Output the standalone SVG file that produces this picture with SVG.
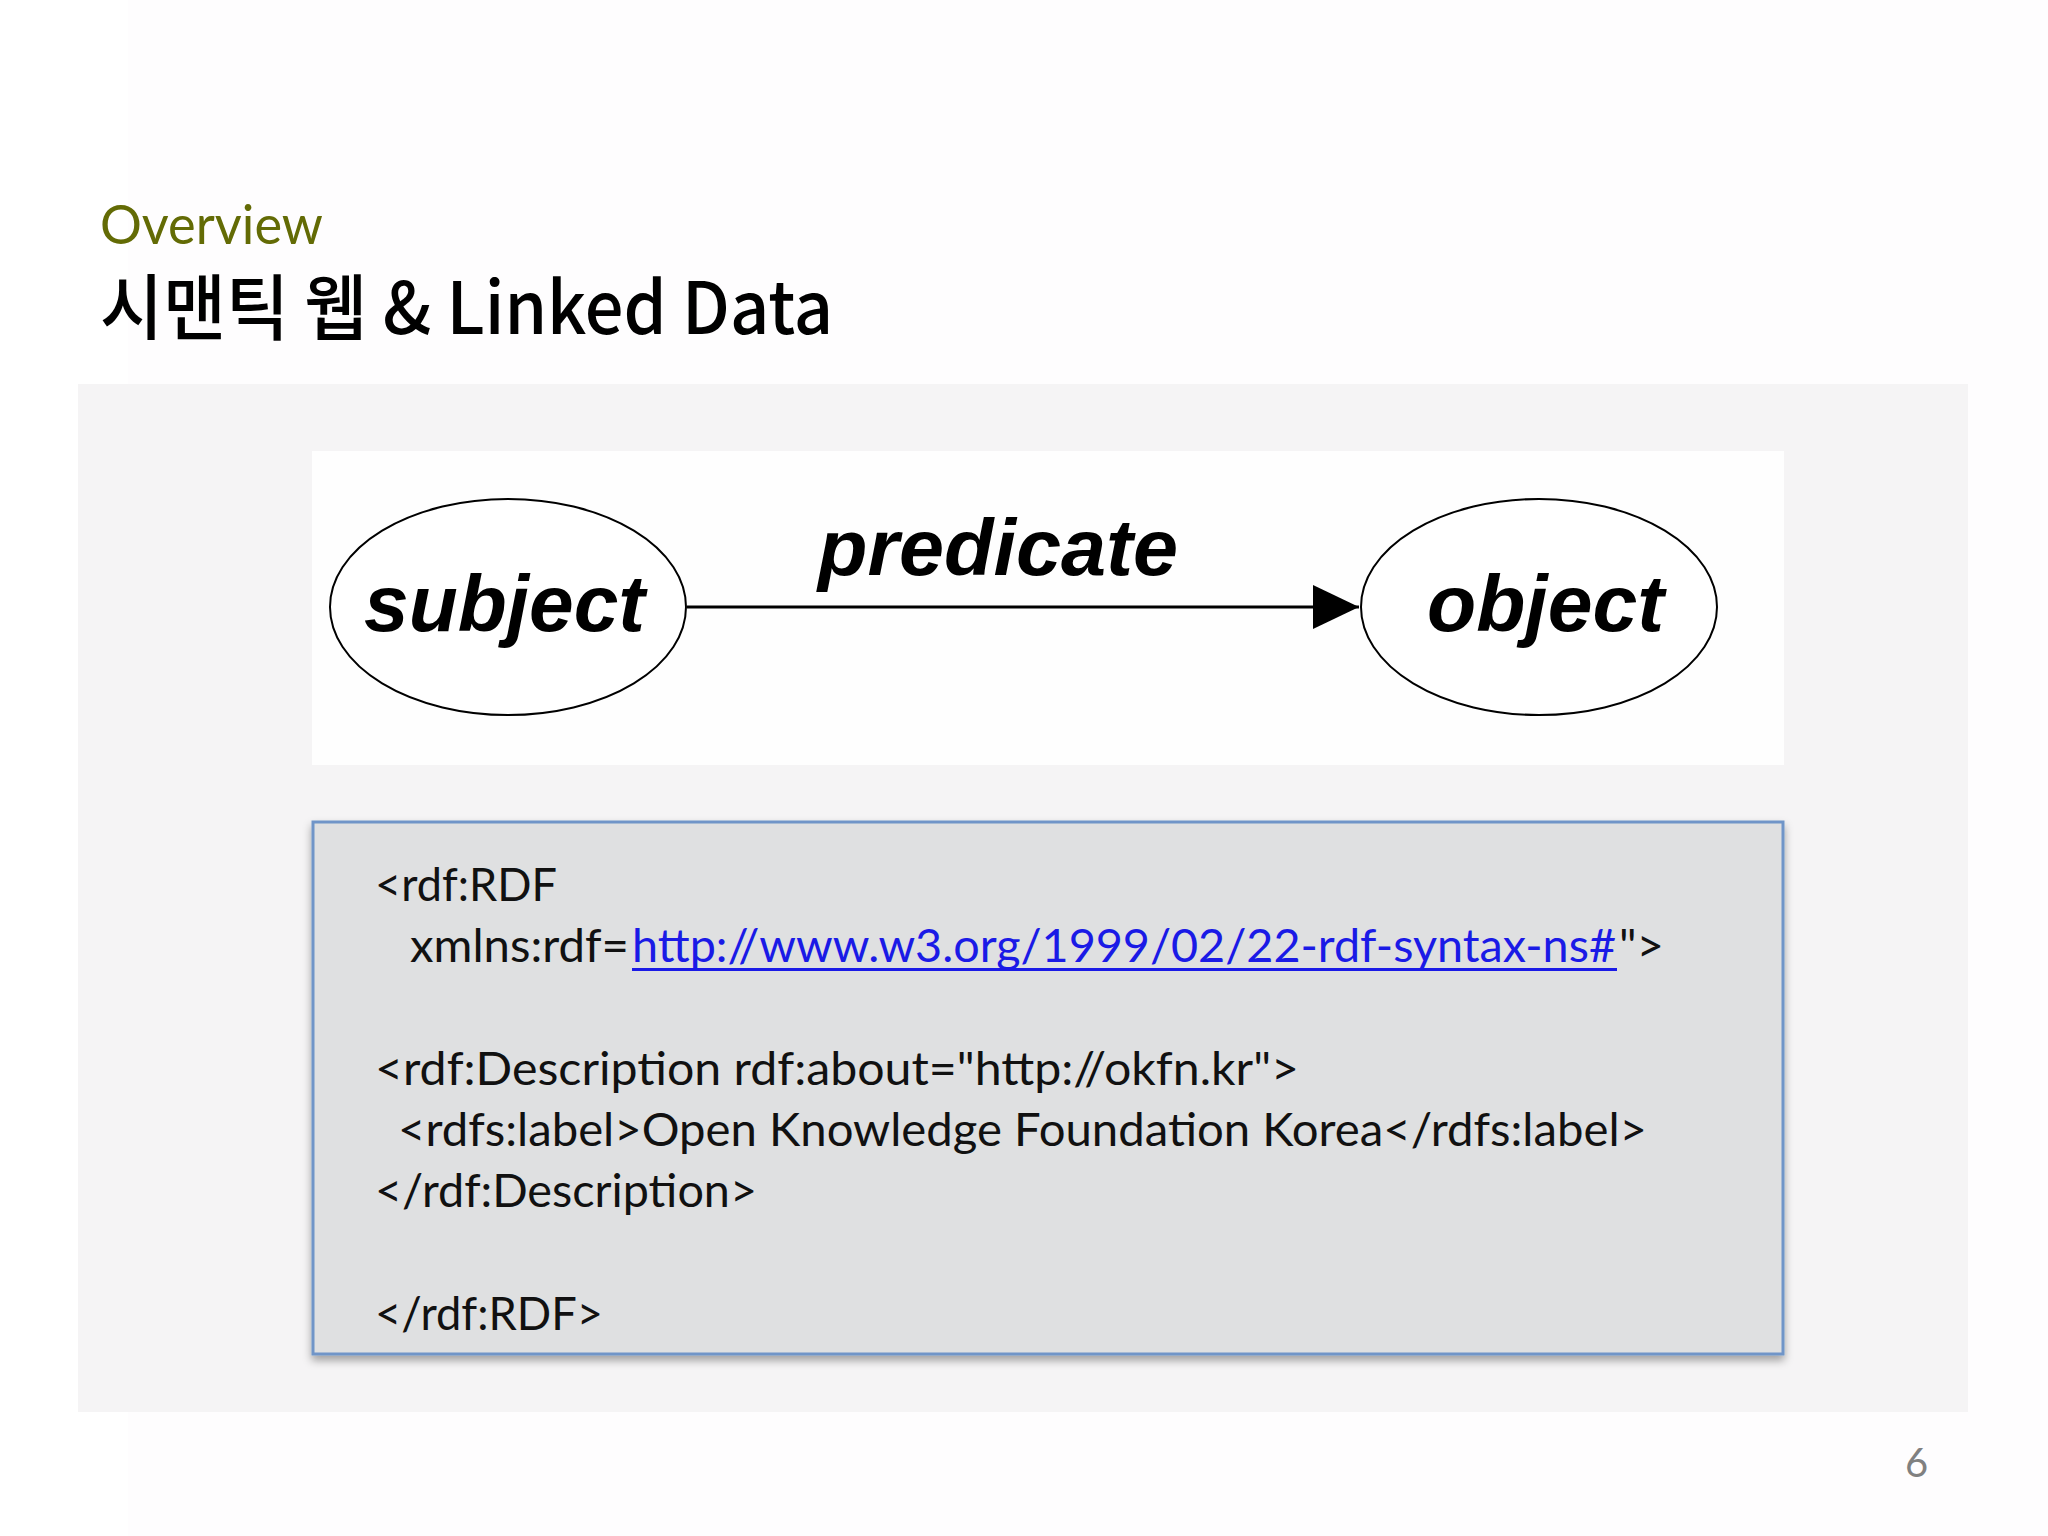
<svg xmlns="http://www.w3.org/2000/svg" width="2048" height="1536" viewBox="0 0 2048 1536">
<style>
.code{font-family:Lato,"Open Sans","Liberation Sans",sans-serif;font-size:46px;fill:#111}
.node{font-family:"Liberation Sans",Arial,sans-serif;font-weight:bold;font-style:italic;font-size:80px;fill:#000}
.ell{fill:#fff;stroke:#000;stroke-width:2}
</style>
<defs>
<marker id="arr" viewBox="0 0 46 44" refX="46" refY="22" markerWidth="46" markerHeight="44" markerUnits="userSpaceOnUse" orient="auto">
<path d="M0,0 L46,22 L0,44 Z" fill="#000"/>
</marker>
<filter id="sh" x="-5%" y="-5%" width="110%" height="115%">
<feDropShadow dx="0" dy="5" stdDeviation="4" flood-color="#000" flood-opacity="0.35"/>
</filter>
</defs>
<rect width="2048" height="1536" fill="#ffffff"/>
<rect x="128" y="0" width="1920" height="1536" fill="#fefdfe"/>
<text x="100" y="244" font-family="Lato,'Open Sans',sans-serif" font-size="54" fill="#636b05" textLength="223" lengthAdjust="spacingAndGlyphs">Overview</text>
<text x="100" y="334" font-family="'Noto Sans CJK KR','Noto Sans',sans-serif" font-weight="500" font-size="72" fill="#000" textLength="733" lengthAdjust="spacingAndGlyphs">시맨틱 웹 &amp; Linked Data</text>
<rect x="78" y="384" width="1890" height="1028" fill="#f5f4f5"/>
<rect x="312" y="451" width="1472" height="314" fill="#fefefe"/>
<g id="connectors">
<line x1="687" y1="607" x2="1359" y2="607" stroke="#000" stroke-width="3" marker-end="url(#arr)"/>
<text class="node" x="818" y="575" textLength="360" lengthAdjust="spacingAndGlyphs">predicate</text>
</g>
<g id="subject">
<ellipse class="ell" cx="508" cy="607" rx="178" ry="108"/>
<text class="node" x="364" y="631" textLength="281" lengthAdjust="spacingAndGlyphs">subject</text>
</g>
<g id="object">
<ellipse class="ell" cx="1539" cy="607" rx="178" ry="108"/>
<text class="node" x="1427" y="631" textLength="237" lengthAdjust="spacingAndGlyphs">object</text>
</g>
<g id="code">
<rect x="313" y="822" width="1470" height="532" fill="#dfe0e1" stroke="#6f95c8" stroke-width="3" filter="url(#sh)"/>
<text class="code" x="375" y="901" textLength="182" lengthAdjust="spacingAndGlyphs">&lt;rdf:RDF</text>
<text class="code" x="410" y="962" textLength="219" lengthAdjust="spacingAndGlyphs">xmlns:rdf=</text>
<text class="code" x="632" y="962" textLength="984" lengthAdjust="spacingAndGlyphs" style="fill:#1a1ae6">http://www.w3.org/1999/02/22-rdf-syntax-ns#</text>
<rect x="632" y="968" width="985" height="3" fill="#1a1ae6"/>
<text class="code" x="1619" y="962" textLength="45" lengthAdjust="spacingAndGlyphs">"&gt;</text>
<text class="code" x="375" y="1085" textLength="924" lengthAdjust="spacingAndGlyphs">&lt;rdf:Description rdf:about="http://okfn.kr"&gt;</text>
<text class="code" x="398" y="1146" textLength="1249" lengthAdjust="spacingAndGlyphs">&lt;rdfs:label&gt;Open Knowledge Foundation Korea&lt;/rdfs:label&gt;</text>
<text class="code" x="375" y="1207" textLength="382" lengthAdjust="spacingAndGlyphs">&lt;/rdf:Description&gt;</text>
<text class="code" x="375" y="1330" textLength="228" lengthAdjust="spacingAndGlyphs">&lt;/rdf:RDF&gt;</text>
</g>
<text x="1905" y="1477" font-family="Lato,'Open Sans',sans-serif" font-size="40" fill="#808080">6</text>
</svg>
